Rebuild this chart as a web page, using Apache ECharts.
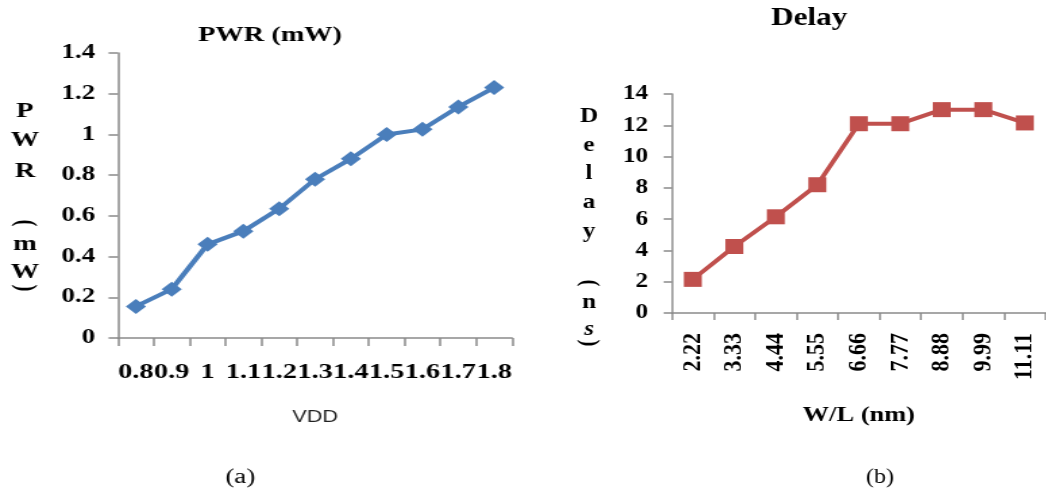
<!DOCTYPE html>
<html>
<head>
<meta charset="utf-8">
<script src="https://cdn.jsdelivr.net/npm/echarts@6/dist/echarts.min.js"></script>
<style>
  html, body { margin: 0; padding: 0; background: #fff; overflow: hidden; }
  #wrap { position: relative; width: 1046px; height: 492px; }
  /* the original figure is stretched sideways, so each panel is drawn narrow and scaled */
  #pwr { position: absolute; left: 0; top: 0; width: 385px; height: 492px;
         transform: scaleX(1.35); transform-origin: 0 0; }
  #delay { position: absolute; left: 520px; top: 0; width: 438px; height: 492px;
           transform: scaleX(1.2); transform-origin: 0 0; }
</style>
</head>
<body>
<div id="wrap">
  <div id="pwr"></div>
  <div id="delay"></div>
</div>
<script>
var vddLabels = ['0.8', '0.9', '1', '1.1', '1.2', '1.3', '1.4', '1.5', '1.6', '1.7', '1.8'];
var pwrValues = [0.155, 0.24, 0.46, 0.525, 0.635, 0.78, 0.88, 1.0, 1.025, 1.135, 1.23];

var wlLabels = ['2.22', '3.33', '4.44', '5.55', '6.66', '7.77', '8.88', '9.99', '11.11'];
var delayValues = [2.15, 4.25, 6.15, 8.2, 12.1, 12.1, 13.0, 13.0, 12.15];

var SERIF = '"Liberation Serif", "Times New Roman", serif';
var AXIS_GREY = '#8a8a8a';

// stacked letters for the vertical axis names, brackets turned sideways
function letters(x, list) {
  return list.map(function (it) {
    return {
      type: 'text',
      x: x,
      y: it.y,
      rotation: it.rot ? -Math.PI / 2 : 0,
      style: {
        text: it.t,
        fill: '#000',
        font: (it.italic ? 'italic ' : '') + 'bold 21px ' + SERIF,
        textAlign: 'center',
        textVerticalAlign: 'middle'
      }
    };
  });
}

function axisBase() {
  return {
    axisLine: { show: true, lineStyle: { color: AXIS_GREY, width: 1.5 } },
    axisTick: { show: true, inside: false, lineStyle: { color: AXIS_GREY, width: 1.5 } },
    splitLine: { show: false }
  };
}

// ---- (a) PWR ----
var pwrChart = echarts.init(document.getElementById('pwr'));
var pwrX = axisBase();
pwrX.type = 'category';
pwrX.data = vddLabels;
pwrX.axisTick.length = 8;
pwrX.axisLabel = { interval: 0, margin: 24, color: '#000', fontFamily: SERIF, fontWeight: 'bold', fontSize: 21, hideOverlap: false };
pwrX.name = 'VDD';
pwrX.nameLocation = 'middle';
pwrX.nameGap = 72;
pwrX.nameTextStyle = { color: '#222', fontFamily: '"Liberation Sans", Arial, sans-serif', fontSize: 16 };

var pwrY = axisBase();
pwrY.type = 'value';
pwrY.min = 0;
pwrY.max = 1.4;
pwrY.interval = 0.2;
pwrY.axisTick.length = 7;
pwrY.axisLabel = {
  margin: 17, color: '#000', fontFamily: SERIF, fontWeight: 'bold', fontSize: 20,
  formatter: function (v) { return String(Math.round(v * 10) / 10); }
};

pwrChart.setOption({
  animation: false,
  title: {
    text: 'PWR (mW)',
    left: 195, top: 20, textAlign: 'center',
    textStyle: { color: '#000', fontFamily: SERIF, fontWeight: 'bold', fontSize: 21 }
  },
  grid: { left: 87.4, right: 5.7, top: 53, bottom: 154, containLabel: false },
  xAxis: pwrX,
  yAxis: pwrY,
  series: [{
    type: 'line',
    data: pwrValues,
    symbol: 'diamond',
    symbolSize: 15,
    lineStyle: { color: '#4a7ebb', width: 4 },
    itemStyle: { color: '#4a7ebb' }
  }],
  graphic: letters(18.5, [
    { t: 'P', y: 112 }, { t: 'W', y: 141 }, { t: 'R', y: 172 },
    { t: '(', y: 223, rot: true }, { t: 'm', y: 245 }, { t: 'W', y: 273 },
    { t: ')', y: 288, rot: true }
  ]).concat([{
    type: 'text', x: 178, y: 478,
    style: { text: '(a)', fill: '#000', font: '20px ' + SERIF, textAlign: 'center', textVerticalAlign: 'middle' }
  }])
});

// ---- (b) Delay ----
var delayChart = echarts.init(document.getElementById('delay'));
var delayX = axisBase();
delayX.type = 'category';
delayX.data = wlLabels;
delayX.axisTick.length = 7;
delayX.axisLabel = { interval: 0, rotate: 90, margin: 20, color: '#000', fontFamily: SERIF, fontWeight: 'bold', fontSize: 22 };
delayX.name = 'W/L (nm)';
delayX.nameLocation = 'middle';
delayX.nameGap = 91;
delayX.nameTextStyle = { color: '#000', fontFamily: SERIF, fontWeight: 'bold', fontSize: 22 };

var delayY = axisBase();
delayY.type = 'value';
delayY.min = 0;
delayY.max = 14;
delayY.interval = 2;
delayY.axisTick.length = 7;
delayY.axisLabel = { margin: 20, color: '#000', fontFamily: SERIF, fontWeight: 'bold', fontSize: 21 };

delayChart.setOption({
  animation: false,
  title: {
    text: 'Delay',
    left: 236, top: 0, textAlign: 'center',
    textStyle: { color: '#000', fontFamily: SERIF, fontWeight: 'bold', fontSize: 26 }
  },
  grid: { left: 126.7, right: -5.9, top: 94, bottom: 179, containLabel: false },
  xAxis: delayX,
  yAxis: delayY,
  series: [{
    type: 'line',
    data: delayValues,
    symbol: 'rect',
    symbolSize: 15,
    lineStyle: { color: '#c0504d', width: 4 },
    itemStyle: { color: '#c0504d' }
  }],
  graphic: letters(57.5, [
    { t: 'D', y: 117 }, { t: 'e', y: 146 }, { t: 'l', y: 174 }, { t: 'a', y: 203 },
    { t: 'y', y: 232 }, { t: '(', y: 283, rot: true }, { t: 'n', y: 303 },
    { t: 's', y: 330, italic: true }, { t: ')', y: 343, rot: true }
  ]).concat([{
    type: 'text', x: 300, y: 478,
    style: { text: '(b)', fill: '#000', font: '20px ' + SERIF, textAlign: 'center', textVerticalAlign: 'middle' }
  }])
});
</script>
</body>
</html>
